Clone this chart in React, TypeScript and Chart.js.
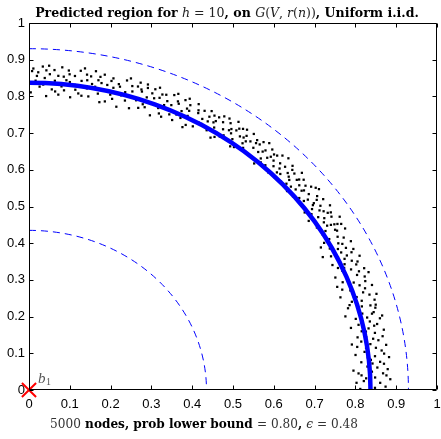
import React, { useEffect, useRef } from "react";
import { Chart, registerables } from "chart.js";

Chart.register(...registerables);

// ---- data ----
const xTickValues = [0, 0.1, 0.2, 0.3, 0.4, 0.5, 0.6, 0.7, 0.8, 0.9, 1];
const yTickValues = [0, 0.1, 0.2, 0.3, 0.4, 0.5, 0.6, 0.7, 0.8, 0.9, 1];
const predictedRadius = [0.837];
const boundRadii = [0.93, 0.435];
const anchorNode = [{ x: 0, y: 0 }];
const anchorLabel = "b";
const anchorSub = "1";

// node positions as [angle (deg), radius]
const nodesPolar: [number, number][] = [
  [0.2,0.812],[0.6,0.874],[0.9,0.838],[1.3,0.861],[1.4,0.803],[1.9,0.886],[2.2,0.827],[2.3,0.849],[2.8,0.816],[3.0,0.869],[3.4,0.842],[3.7,0.881],[3.8,0.797],[4.1,0.856],[4.4,0.832],[4.7,0.873],[0.4,0.848],[1.7,0.821],[2.6,0.877],[3.2,0.809],[4.9,0.845],
  [5.1,0.864],[5.3,0.818],[5.8,0.887],[6.1,0.835],[6.2,0.853],[6.8,0.806],[7.1,0.871],[7.2,0.829],[7.7,0.858],[8.0,0.884],[8.3,0.813],[8.5,0.846],[9.0,0.867],[9.2,0.825],[9.6,0.879],[9.9,0.839],[5.6,0.842],[6.5,0.876],[7.9,0.834],[8.9,0.801],[9.4,0.855],
  [10.1,0.818],[10.4,0.862],[10.7,0.885],[11.1,0.831],[11.4,0.849],[11.9,0.872],[12.1,0.807],[12.6,0.856],[12.9,0.838],[13.2,0.889],[13.6,0.824],[13.9,0.866],[14.3,0.843],[14.5,0.801],[14.8,0.878],[10.9,0.841],[11.7,0.864],[12.4,0.827],[13.4,0.852],[14.1,0.871],[12.8,0.882],
  [15.1,0.836],[15.4,0.868],[15.9,0.813],[16.2,0.882],[16.6,0.851],[16.9,0.827],[17.3,0.874],[17.5,0.842],[18.0,0.861],[18.3,0.804],[18.8,0.888],[19.0,0.833],[19.4,0.859],[19.8,0.876],[15.6,0.847],[16.4,0.819],[17.8,0.836],[18.6,0.869],[19.6,0.815],[17.1,0.891],[15.3,0.881],
  [20.2,0.848],[20.6,0.879],[20.9,0.823],[21.3,0.863],[21.5,0.837],[22.0,0.886],[22.2,0.811],[22.6,0.855],[23.1,0.872],[23.3,0.841],[23.7,0.827],[24.0,0.866],[24.3,0.889],[24.8,0.852],[20.4,0.806],[21.8,0.871],[22.9,0.834],[23.9,0.846],[24.6,0.818],[21.1,0.892],[23.5,0.878],
  [25.2,0.861],[25.5,0.839],[25.8,0.883],[26.2,0.825],[26.5,0.868],[26.9,0.849],[27.2,0.887],[27.6,0.832],[27.8,0.857],[28.3,0.876],[28.5,0.814],[28.9,0.864],[29.2,0.843],[29.6,0.891],[25.4,0.875],[26.7,0.806],[27.4,0.865],[28.7,0.838],[29.9,0.871],[26.1,0.852],[29.0,0.827],
  [30.2,0.868],[30.6,0.889],[30.8,0.846],[31.1,0.874],[31.5,0.857],[31.8,0.896],[32.1,0.833],[32.5,0.879],[32.9,0.862],[33.2,0.884],[33.6,0.851],[34.0,0.871],[34.3,0.893],[34.7,0.842],[30.4,0.835],[31.3,0.866],[32.3,0.855],[33.4,0.877],[34.5,0.864],[33.9,0.826],[30.9,0.881],
  [35.1,0.873],[35.4,0.851],[35.8,0.889],[36.1,0.864],[36.5,0.838],[36.8,0.882],[37.2,0.858],[37.6,0.897],[37.9,0.869],[38.3,0.844],[38.7,0.886],[39.1,0.861],[39.4,0.877],[39.9,0.852],[35.6,0.831],[36.3,0.875],[37.4,0.848],[38.1,0.893],[39.2,0.835],[38.9,0.866],[35.9,0.859],
  [40.1,0.866],[40.4,0.884],[40.8,0.848],[41.1,0.871],[41.5,0.893],[41.9,0.857],[42.2,0.878],[42.6,0.839],[43.0,0.867],[43.4,0.889],[43.7,0.852],[44.1,0.874],[44.5,0.861],[44.8,0.896],[40.6,0.833],[41.7,0.845],[42.9,0.881],[43.9,0.836],[44.3,0.849],[42.4,0.862],[40.9,0.876],
  [45.1,0.872],[45.5,0.855],[45.8,0.891],[46.2,0.866],[46.6,0.843],[46.9,0.879],[47.3,0.861],[47.7,0.886],[48.0,0.849],[48.4,0.873],[48.8,0.894],[49.1,0.858],[49.4,0.837],[49.8,0.876],[45.3,0.834],[46.4,0.882],[47.5,0.841],[48.6,0.866],[49.6,0.887],[47.0,0.869],[48.2,0.828],
  [50.2,0.859],[50.6,0.881],[50.9,0.838],[51.3,0.868],[51.7,0.889],[52.1,0.852],[52.4,0.874],[52.8,0.831],[53.2,0.863],[53.6,0.884],[53.9,0.846],[54.3,0.871],[54.7,0.857],[54.9,0.893],[50.4,0.873],[51.5,0.843],[52.6,0.866],[53.4,0.827],[54.1,0.879],[51.9,0.861],[53.0,0.888],
  [55.1,0.867],[55.5,0.842],[55.8,0.879],[56.2,0.855],[56.6,0.826],[56.9,0.871],[57.3,0.886],[57.6,0.847],[58.0,0.864],[58.4,0.831],[58.7,0.875],[59.1,0.853],[59.5,0.882],[59.8,0.839],[55.3,0.861],[56.4,0.888],[57.1,0.819],[58.2,0.858],[59.3,0.866],[57.9,0.877],[55.9,0.834],
  [60.1,0.852],[60.5,0.874],[60.8,0.823],[61.2,0.861],[61.6,0.838],[61.9,0.883],[62.3,0.809],[62.7,0.856],[63.0,0.871],[63.4,0.829],[63.8,0.847],[64.1,0.878],[64.5,0.815],[64.8,0.862],[60.3,0.839],[61.4,0.868],[62.5,0.842],[63.6,0.886],[64.3,0.833],[62.0,0.818],[63.2,0.859],
  [65.1,0.867],[65.4,0.826],[65.8,0.851],[66.1,0.879],[66.5,0.812],[66.9,0.844],[67.3,0.872],[67.6,0.831],[68.1,0.858],[68.4,0.805],[68.7,0.884],[69.1,0.837],[69.5,0.863],[69.8,0.821],[65.6,0.886],[66.3,0.838],[67.1,0.818],[67.9,0.869],[68.9,0.852],[69.3,0.876],[66.7,0.857],
  [70.1,0.848],[70.5,0.873],[70.8,0.814],[71.2,0.859],[71.6,0.832],[71.9,0.881],[72.3,0.806],[72.7,0.852],[73.0,0.866],[73.4,0.823],[73.8,0.845],[74.1,0.877],[74.5,0.801],[74.9,0.856],[70.3,0.827],[71.4,0.864],[72.5,0.838],[73.6,0.885],[74.3,0.834],[72.1,0.869],[70.7,0.882],
  [75.2,0.862],[75.6,0.819],[75.9,0.849],[76.3,0.874],[76.7,0.808],[77.0,0.853],[77.4,0.836],[77.8,0.879],[78.2,0.825],[78.6,0.861],[78.9,0.842],[79.3,0.884],[79.7,0.813],[75.4,0.838],[76.5,0.866],[77.6,0.803],[78.4,0.871],[79.5,0.848],[76.1,0.829],[78.0,0.855],[79.9,0.868],
  [80.2,0.834],[80.6,0.871],[80.9,0.812],[81.3,0.852],[81.7,0.879],[82.1,0.826],[82.5,0.863],[82.8,0.804],[83.2,0.845],[83.6,0.876],[84.0,0.821],[84.3,0.858],[84.7,0.883],[80.4,0.856],[81.5,0.817],[82.3,0.839],[83.4,0.866],[84.5,0.831],[81.1,0.887],[83.8,0.849],[84.9,0.808],
  [85.2,0.859],[85.5,0.816],[85.9,0.874],[86.3,0.838],[86.6,0.862],[87.0,0.802],[87.4,0.851],[87.8,0.882],[88.2,0.827],[88.5,0.866],[88.9,0.843],[89.3,0.876],[89.7,0.811],[85.7,0.845],[86.8,0.885],[87.6,0.833],[88.7,0.856],[89.5,0.869],[86.1,0.821],[87.2,0.872],[89.9,0.839],
];

// [text, style, colour]
type Seg = [string, string, string?];
const SERIF = '"DejaVu Serif", "Liberation Serif", serif';
const MATH = "#222";
const titleSegs: Seg[] = [
  ["Predicted region for ", "bold"],
  ["h", "italic", MATH],
  [" = 10", "", MATH],
  [", on ", "bold"],
  ["G", "italic", MATH],
  ["(", "", MATH],
  ["V", "italic", MATH],
  [", ", "", MATH],
  ["r", "italic", MATH],
  ["(", "", MATH],
  ["n", "italic", MATH],
  ["))", "", MATH],
  [", Uniform i.i.d.", "bold"],
];
const xLabelSegs: Seg[] = [
  ["5000", "", "#333"],
  [" nodes, prob lower bound ", "bold"],
  ["= 0.80", "", "#333"],
  [", ", "bold"],
  ["\u03F5", "italic", "#333"],
  [" = 0.48", "", "#333"],
];

function drawRich(ctx: CanvasRenderingContext2D, segs: Seg[], left: number, right: number, baseline: number) {
  const base = 13;
  const fontOf = (st: string, size: number) => `${st} ${size}px ${SERIF}`.trim();
  let total = 0;
  for (const s of segs) {
    ctx.font = fontOf(s[1], base);
    total += ctx.measureText(s[0]).width;
  }
  const size = Math.min(15, Math.max(11, (base * (right - left)) / total));
  let w = 0;
  for (const s of segs) {
    ctx.font = fontOf(s[1], size);
    w += ctx.measureText(s[0]).width;
  }
  let x = (left + right) / 2 - w / 2;
  ctx.textBaseline = "alphabetic";
  ctx.textAlign = "left";
  for (const s of segs) {
    ctx.font = fontOf(s[1], size);
    ctx.fillStyle = s[2] || "#000";
    ctx.fillText(s[0], x, baseline);
    x += ctx.measureText(s[0]).width;
  }
}

const overlayPlugin = {
  id: "overlay",
  afterDatasetDraw(chart: any, args: any) {
    if (args.index !== 1) return;
    const { ctx, chartArea } = chart;
    const xs = chart.scales.x;
    const ys = chart.scales.y;
    const cx = xs.getPixelForValue(0);
    const cy = ys.getPixelForValue(0);
    ctx.save();
    ctx.beginPath();
    ctx.rect(chartArea.left, chartArea.top, chartArea.right - chartArea.left, chartArea.bottom - chartArea.top);
    ctx.clip();
    ctx.strokeStyle = "#0000ff";
    ctx.lineWidth = 1;
    ctx.setLineDash([7, 5]);
    for (const r of boundRadii) {
      const rx = xs.getPixelForValue(r) - cx;
      const ry = cy - ys.getPixelForValue(r);
      ctx.beginPath();
      ctx.ellipse(cx, cy, rx, ry, 0, -Math.PI / 2, 0, false);
      ctx.stroke();
    }
    ctx.setLineDash([]);
    ctx.lineWidth = 4.5;
    for (const r of predictedRadius) {
      const rx = xs.getPixelForValue(r) - cx;
      const ry = cy - ys.getPixelForValue(r);
      ctx.beginPath();
      ctx.ellipse(cx, cy, rx, ry, 0, -Math.PI / 2, 0, false);
      ctx.stroke();
    }
    ctx.restore();
  },
  afterDraw(chart: any) {
    const { ctx, chartArea } = chart;
    const xs = chart.scales.x;
    const ys = chart.scales.y;
    const { left, right, top, bottom } = chartArea;
    ctx.save();
    ctx.strokeStyle = "#000";
    ctx.lineWidth = 1;
    ctx.beginPath();
    const L = Math.round(left) + 0.5, R = Math.round(right) - 0.5;
    const T = Math.round(top) + 0.5, B = Math.round(bottom) - 0.5;
    ctx.rect(L, T, R - L, B - T);
    ctx.stroke();
    const tl = 4;
    ctx.beginPath();
    for (const v of xTickValues) {
      const px = Math.round(xs.getPixelForValue(v)) + 0.5;
      ctx.moveTo(px, B); ctx.lineTo(px, B - tl);
      ctx.moveTo(px, T); ctx.lineTo(px, T + tl);
    }
    for (const v of yTickValues) {
      const py = Math.round(ys.getPixelForValue(v)) + 0.5;
      ctx.moveTo(L, py); ctx.lineTo(L + tl, py);
      ctx.moveTo(R, py); ctx.lineTo(R - tl, py);
    }
    ctx.stroke();
    drawRich(ctx, titleSegs, 35, 419, 17);
    drawRich(ctx, xLabelSegs, 50, 358, 428);
    const ax = xs.getPixelForValue(anchorNode[0].x);
    const ay = ys.getPixelForValue(anchorNode[0].y);
    ctx.fillStyle = "#555";
    ctx.font = `italic 15px "Liberation Serif", serif`;
    ctx.textAlign = "left";
    ctx.textBaseline = "alphabetic";
    ctx.fillText(anchorLabel, ax + 9, ay - 7);
    const bw = ctx.measureText(anchorLabel).width;
    ctx.font = `10px "Liberation Serif", serif`;
    ctx.fillText(anchorSub, ax + 9 + bw + 0.5, ay - 5);
    ctx.restore();
  },
};

export default function App() {
  const ref = useRef<HTMLCanvasElement>(null);
  useEffect(() => {
    document.body.style.margin = "0";
    const nodes = nodesPolar.map(([deg, r]) => ({
      x: r * Math.cos((deg * Math.PI) / 180),
      y: r * Math.sin((deg * Math.PI) / 180),
    }));
    const chart = new Chart(ref.current!, {
      type: "scatter",
      data: {
        datasets: [
          {
            data: anchorNode,
            pointStyle: "crossRot",
            pointRadius: 10,
            borderColor: "#ff0000",
            backgroundColor: "#ff0000",
            pointBorderWidth: 2,
            clip: false as any,
          },
          {
            data: nodes,
            pointStyle: "rect",
            pointRadius: 1.6,
            borderWidth: 0,
            backgroundColor: "#000",
            borderColor: "#000",
          },
        ],
      },
      plugins: [overlayPlugin],
      options: {
        animation: false,
        responsive: false,
        events: [],
        layout: { autoPadding: false, padding: { top: 23, right: 4, left: 0, bottom: 0 } },
        plugins: { legend: { display: false }, tooltip: { enabled: false }, title: { display: false } },
        scales: {
          x: {
            type: "linear",
            min: 0,
            max: 1,
            afterFit: (s: any) => { s.height = 49; s.paddingLeft = 0; s.paddingRight = 0; },
            afterBuildTicks: (s: any) => { s.ticks = xTickValues.map((v) => ({ value: v })); },
            grid: { display: false, drawTicks: true, tickLength: 7 },
            border: { display: false },
            ticks: {
              padding: 0,
              color: "#000",
              font: { family: '"Liberation Sans", Arial, sans-serif', size: 13 },
              maxRotation: 0,
              autoSkip: false,
              callback: (v: any) => String(Number(Number(v).toFixed(1))),
            },
          },
          y: {
            type: "linear",
            min: 0,
            max: 1,
            afterFit: (s: any) => { s.width = 29; s.paddingTop = 0; s.paddingBottom = 0; },
            afterBuildTicks: (s: any) => { s.ticks = yTickValues.map((v) => ({ value: v })); },
            grid: { display: false, drawTicks: true, tickLength: 4 },
            border: { display: false },
            ticks: {
              padding: 0,
              color: "#000",
              font: { family: '"Liberation Sans", Arial, sans-serif', size: 13 },
              autoSkip: false,
              callback: (v: any) => String(Number(Number(v).toFixed(1))),
            },
          },
        },
      },
    });
    return () => chart.destroy();
  }, []);
  return (
    <div style={{ position: "absolute", left: 0, top: 0, width: 441, height: 439, background: "#fff" }}>
      <canvas ref={ref} width={441} height={439} style={{ width: 441, height: 439 }} />
    </div>
  );
}
